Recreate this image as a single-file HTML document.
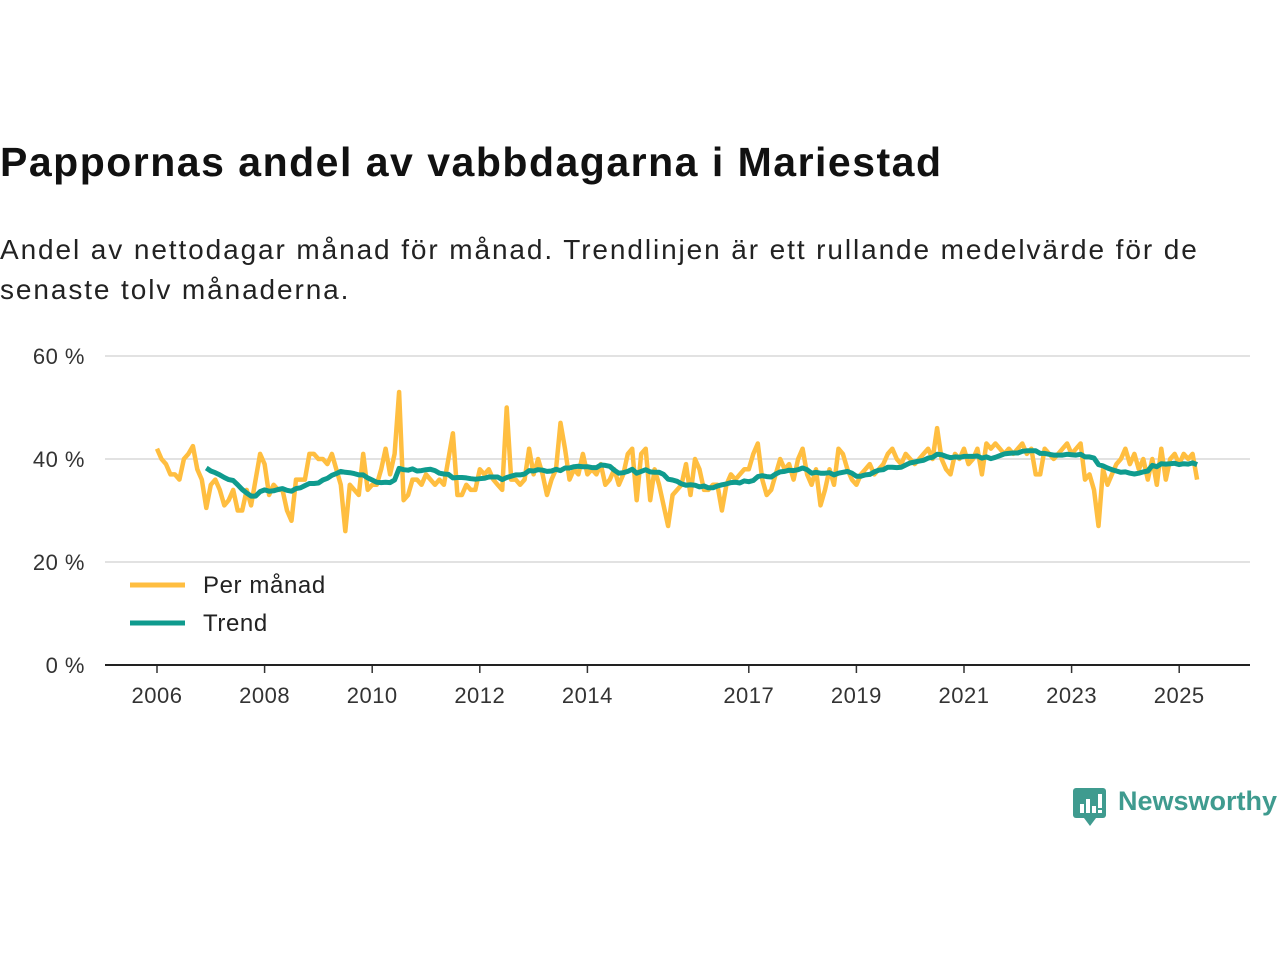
<!DOCTYPE html>
<html><head><meta charset="utf-8"><style>
body{margin:0;width:1280px;height:960px;background:#fff;font-family:"Liberation Sans",sans-serif;overflow:hidden}
h1{position:absolute;left:0;top:139px;margin:0;font-size:41px;font-weight:bold;color:#111;letter-spacing:1.5px;white-space:nowrap}
.sub{position:absolute;left:0;top:230px;margin:0;font-size:28px;line-height:40px;color:#222;width:1235px;letter-spacing:1.9px}
svg{position:absolute;left:0;top:0}
</style></head><body>
<h1>Pappornas andel av vabbdagarna i Mariestad</h1>
<p class="sub">Andel av nettodagar månad för månad. Trendlinjen är ett rullande medelvärde för de senaste tolv månaderna.</p>
<svg id="chart" width="1280" height="960"></svg>
<div style="position:absolute;left:1072px;top:786px;height:40px;">
<svg width="36" height="42" style="position:absolute;left:0;top:0"><rect x="1" y="2" width="33" height="30" rx="3" fill="#3f9b8f"/><polygon points="12,32 24,32 18,40" fill="#3f9b8f"/><rect x="8" y="18" width="4" height="9" fill="#fff"/><rect x="14" y="13" width="4" height="14" fill="#fff"/><rect x="20" y="20" width="4" height="7" fill="#fff"/><rect x="26" y="8" width="4" height="14" fill="#fff"/><rect x="26" y="24" width="4" height="3" fill="#fff"/></svg>
<span style="position:absolute;left:46px;top:0;font-size:27px;color:#3f9b8f;font-weight:bold;white-space:nowrap">Newsworthy</span>
</div>
<script>
const yTicks=[0,20,40,60];
const yTickLabels=["0 %","20 %","40 %","60 %"];
const xTickYears=[2006,2008,2010,2012,2014,2017,2019,2021,2023,2025];
const startYear=2006;
const monthly=[
42,40,39,37,37,36,40,41,42.5,38,36,30.5,
35,36,34,31,32,34,30,30,34,31,36,41,
39,33,35,34,34,30,28,36,36,36,41,41,
40,40,39,41,38,35,26,35,34,33,41,34,
35,35,38,42,37,41,53,32,33,36,36,35,
37,36,35,36,35,40,45,33,33,35,34,34,
38,37,38,36,35,34,50,36,36,35,36,42,
37,40,37,33,36,38,47,42,36,38,37,41,
37,38,37,39,35,36,38,35,37,41,42,32,
41,42,32,38,35,31,27,33,34,35,39,33,
40,38,34,34,35,35,30,35,37,36,37,38,
38,41,43,36,33,34,37,40,38,39,36,40,
42,37,35,38,31,34,38,35,42,41,38,36,
35,37,38,39,37,38,39,41,42,40,39,41,
40,39,40,41,42,40,46,40,38,37,41,40,
42,39,40,42,37,43,42,43,42,41,42,41,
42,43,41,42,37,37,42,41,40,41,42,43,
41,42,43,36,37,34,27,38,35,37,39,40,
42,39,41,38,40,36,40,35,42,36,40,41,
39,41,40,41,36];
const trend=monthly.map((v,i)=>i<11?null:monthly.slice(i-11,i+1).reduce((a,b)=>a+b,0)/12);
const NS="http://www.w3.org/2000/svg";
const svg=document.getElementById('chart');
const x0=157,pxPerYear=53.8,yBase=665,pxPerPct=5.15;
const xs=i=>x0+(i/12)*pxPerYear;
const xy=yr=>x0+(yr-startYear)*pxPerYear;
const ys=v=>yBase-v*pxPerPct;
function mk(t,a){const e=document.createElementNS(NS,t);for(const k in a)e.setAttribute(k,a[k]);svg.appendChild(e);return e;}
yTicks.forEach((t,i)=>{
 if(t>0){const g=mk('line',{x1:105,x2:1250,y1:ys(t),y2:ys(t),stroke:'#d9d9d9','stroke-width':1.5});
 
 }
 const l=mk('text',{x:85,y:ys(t)+8,'text-anchor':'end','font-size':22,fill:'#333','font-family':'Liberation Sans, sans-serif','letter-spacing':'0.5'});
 l.textContent=yTickLabels[i];
 
 
});
xTickYears.forEach(yr=>{
 const t=mk('line',{x1:xy(yr),x2:xy(yr),y1:665,y2:673,stroke:'#333','stroke-width':1.5});
 
 
 const l=mk('text',{x:xy(yr),y:703,'text-anchor':'middle','font-size':22,fill:'#333','font-family':'Liberation Sans, sans-serif','letter-spacing':'0.5'});
 l.textContent=yr;
 
 
});
const ax=mk('line',{x1:105,x2:1250,y1:665,y2:665,stroke:'#222','stroke-width':2});


const p1=mk('path',{d:monthly.map((v,i)=>(i?'L':'M')+xs(i).toFixed(1)+','+ys(v).toFixed(1)).join(''),fill:'none',stroke:'#ffbe40','stroke-width':4.5,'stroke-linejoin':'round'});


let d='';trend.forEach((v,i)=>{if(v!==null)d+=(d?'L':'M')+xs(i).toFixed(1)+','+ys(v).toFixed(1);});
const p2=mk('path',{d:d,fill:'none',stroke:'#0f9b8e','stroke-width':5,'stroke-linejoin':'round'});


[['Per månad','#ffbe40',585],['Trend','#0f9b8e',623]].forEach(([n,c,y])=>{
 const s=mk('line',{x1:130,x2:185,y1:y,y2:y,stroke:c,'stroke-width':5});
 
 
 const t=mk('text',{x:203,y:y+8,'font-size':24,fill:'#222','font-family':'Liberation Sans, sans-serif','letter-spacing':'0.6'});
 t.textContent=n;
 
 
});
</script>
</body></html>
